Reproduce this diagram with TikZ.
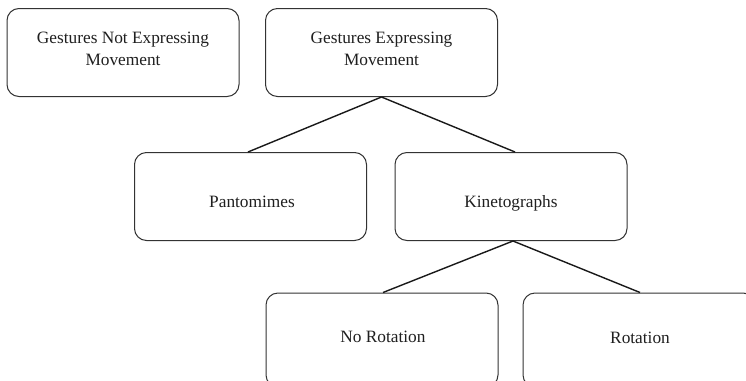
\documentclass[tikz,border=0pt]{standalone}
\usepackage{fontspec}
\setmainfont{Liberation Serif}
\begin{document}
\begin{tikzpicture}[x=1pt,y=-1pt,
  box/.style={draw=black!80, line width=1pt, rounded corners=12pt, rectangle,
    minimum width=232pt, minimum height=88pt, inner sep=0pt},
  lbl/.style={anchor=base, inner sep=0pt, text=black!88,
    font=\fontsize{17.3}{21.5}\selectfont},
  conn/.style={draw=black!90, line width=1.4pt}]
\useasboundingbox (0,0) rectangle (746,380);
\fill[white] (0,0) rectangle (746,380);
\node[box] (b1) at (123,52.5) {};
\node[box] (b2) at (381.5,52.5) {};
\node[box] (b3) at (250.5,196.5) {};
\node[box] (b4) at (511,196.5) {};
\node[box, minimum height=94pt] (b5) at (382,340) {};
\node[box, minimum height=94pt] (b6) at (639,340) {};
\node[lbl] (t1a) at (123,43.5) {Gestures Not Expressing};
\node[lbl] (t1b) at (123,65) {Movement};
\node[lbl] (t2a) at (381.5,43.5) {Gestures Expressing};
\node[lbl] (t2b) at (381.5,65) {Movement};
\node[lbl] (t3) at (252,207) {Pantomimes};
\node[lbl] (t4) at (511,207) {Kinetographs};
\node[lbl] (t5) at (383,342.5) {No Rotation};
\node[lbl] (t6) at (640,343) {Rotation};
\draw[conn] (b2.south) -- ([xshift=-2.5pt]b3.north);
\draw[conn] (b2.south) -- ([xshift=4pt]b4.north);
\draw[conn] ([xshift=2pt]b4.south) -- ([xshift=1pt]b5.north);
\draw[conn] ([xshift=2pt]b4.south) -- ([xshift=1pt]b6.north);
\end{tikzpicture}
\end{document}
